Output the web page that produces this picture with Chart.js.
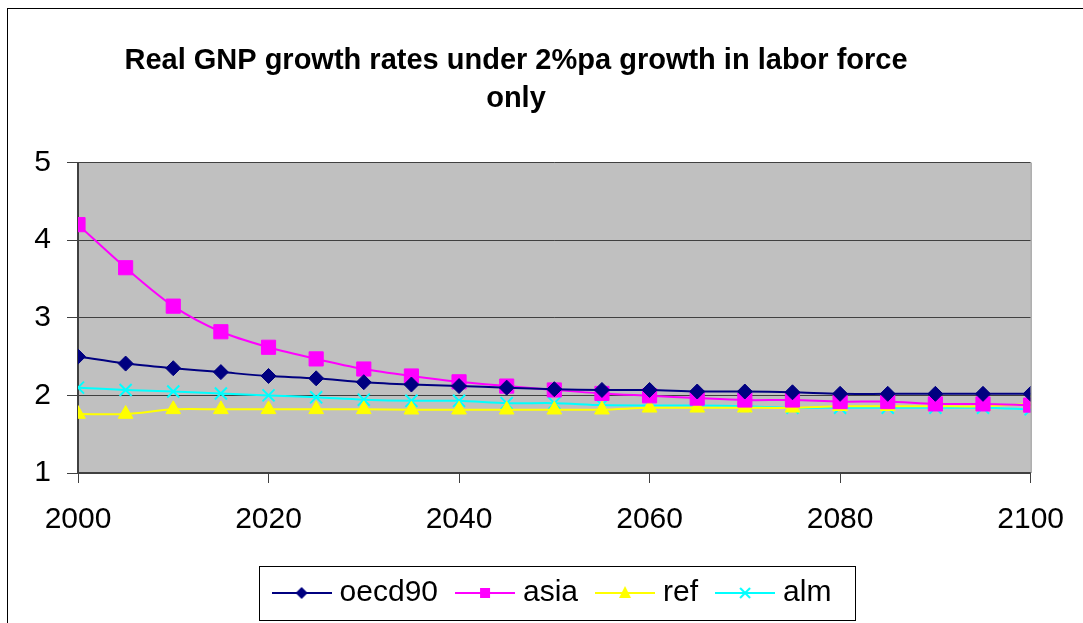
<!DOCTYPE html>
<html lang="en">
<head>
  <meta charset="UTF-8">
  <title>Real GNP growth rates</title>
  <style>
    body {
      margin: 0;
      background: #ffffff;
    }

    #chart {
      display: block;
    }
  </style>
</head>
<body>
  <canvas id="chart" width="1083" height="623"></canvas>

  <script src="https://cdn.jsdelivr.net/npm/chart.js"></script>
  <script>
    const years = [2000, 2005, 2010, 2015, 2020, 2025, 2030, 2035, 2040, 2045, 2050,
                   2055, 2060, 2065, 2070, 2075, 2080, 2085, 2090, 2095, 2100];
    const oecd90 = [2.5, 2.41, 2.35, 2.3, 2.25, 2.22, 2.17, 2.14, 2.12, 2.1, 2.08,
                    2.07, 2.07, 2.05, 2.05, 2.04, 2.02, 2.02, 2.02, 2.02, 2.02];
    const asia = [4.2, 3.645, 3.15, 2.82, 2.62, 2.47, 2.34, 2.25, 2.175, 2.12, 2.07,
                  2.025, 1.995, 1.965, 1.94, 1.94, 1.92, 1.92, 1.89, 1.89, 1.875];
    const ref = [1.76, 1.76, 1.82, 1.82, 1.82, 1.82, 1.82, 1.815, 1.815, 1.815, 1.815,
                 1.815, 1.84, 1.84, 1.84, 1.84, 1.86, 1.86, 1.86, 1.86, 1.89];
    const alm = [2.1, 2.07, 2.05, 2.025, 2.0, 1.975, 1.945, 1.93, 1.93, 1.9, 1.9,
                 1.875, 1.87, 1.87, 1.86, 1.84, 1.84, 1.84, 1.84, 1.84, 1.82];
    const yTicks = [1, 2, 3, 4, 5];
    const xTicks = [2000, 2020, 2040, 2060, 2080, 2100];

    const FONT = "'Liberation Sans', Arial, sans-serif";

    // small line+marker picture for the legend
    function legendIcon(color, marker) {
      const c = document.createElement('canvas');
      c.width = 60;
      c.height = 20;
      const g = c.getContext('2d');
      g.strokeStyle = color;
      g.fillStyle = color;
      g.lineWidth = 2;
      g.beginPath();
      g.moveTo(0, 10);
      g.lineTo(60, 10);
      g.stroke();
      g.beginPath();
      if (marker === 'diamond') {
        g.moveTo(30, 4); g.lineTo(36, 10); g.lineTo(30, 16); g.lineTo(24, 10);
        g.closePath(); g.fill();
      } else if (marker === 'square') {
        g.rect(25, 5, 10, 10); g.fill();
      } else if (marker === 'triangle') {
        g.moveTo(30, 3); g.lineTo(36, 15); g.lineTo(24, 15);
        g.closePath(); g.fill();
      } else {
        g.moveTo(25, 5); g.lineTo(35, 15);
        g.moveTo(35, 5); g.lineTo(25, 15);
        g.stroke();
      }
      return c;
    }

    const series = [
      { label: 'oecd90', values: oecd90, color: '#000080', style: 'rectRot', radius: 7.5, icon: 'diamond' },
      { label: 'asia', values: asia, color: '#FF00FF', style: 'rect', radius: 10, icon: 'square' },
      { label: 'ref', values: ref, color: '#FFFF00', style: 'triangle', radius: 8.5, icon: 'triangle' },
      { label: 'alm', values: alm, color: '#00FFFF', style: 'crossRot', radius: 8.5, icon: 'cross' }
    ];

    const frame = {
      id: 'frame',
      afterLayout(chart) {
        // legend sits a little right of the chart centre in the original
        chart.legend.left += 39;
        chart.legend.right += 39;
      },
      beforeDraw(chart) {
        const { ctx, chartArea } = chart;
        ctx.save();
        ctx.fillStyle = '#C0C0C0';
        ctx.fillRect(chartArea.left, chartArea.top,
                     chartArea.right - chartArea.left, chartArea.bottom - chartArea.top);
        ctx.restore();
      },
      afterDraw(chart) {
        const { ctx, chartArea } = chart;
        ctx.save();
        // outer border of the whole chart
        ctx.strokeStyle = '#000000';
        ctx.lineWidth = 1;
        ctx.strokeRect(7.5, 8.5, 1200, 800);
        // right edge of plot area
        ctx.strokeStyle = '#808080';
        ctx.beginPath();
        ctx.moveTo(chartArea.right + 0.5, chartArea.top);
        ctx.lineTo(chartArea.right + 0.5, chartArea.bottom);
        ctx.stroke();
        // legend frame
        const boxes = chart.legend.legendHitBoxes;
        if (boxes && boxes.length) {
          const left = boxes[0].left - 20;
          const last = boxes[boxes.length - 1];
          const right = last.left + last.width + 23;
          const mid = boxes[0].top + boxes[0].height / 2;
          ctx.strokeStyle = '#000000';
          ctx.strokeRect(Math.round(left) + 0.5, Math.round(mid - 27) + 0.5,
                         Math.round(right - left), 54);
        }
        ctx.restore();
      }
    };

    const ctx = document.getElementById('chart').getContext('2d');
    new Chart(ctx, {
      type: 'line',
      data: {
        datasets: series.map(s => ({
          label: s.label,
          data: years.map((y, i) => ({ x: y, y: s.values[i] })),
          borderColor: s.color,
          backgroundColor: s.color,
          borderWidth: 2,
          pointStyle: s.style,
          pointRadius: s.radius,
          pointBorderWidth: s.style === 'crossRot' ? 2 : 1,
          pointBackgroundColor: s.color,
          pointBorderColor: s.color,
          tension: 0.3,
          fill: false,
          icon: legendIcon(s.color, s.icon)
        }))
      },
      options: {
        responsive: false,
        animation: false,
        layout: {
          padding: { left: 0, right: 51, top: 0, bottom: 5 }
        },
        plugins: {
          title: {
            display: true,
            text: ['Real GNP growth rates under 2%pa growth in labor force', 'only'],
            color: '#000000',
            font: { family: FONT, size: 29, weight: 'bold', lineHeight: 1.32 },
            padding: { top: 42, bottom: 44 }
          },
          legend: {
            display: true,
            position: 'bottom',
            labels: {
              usePointStyle: true,
              pointStyleWidth: 46,
              padding: 24,
              color: '#000000',
              font: { family: FONT, size: 30 },
              generateLabels(chart) {
                return chart.data.datasets.map((d, i) => ({
                  text: d.label,
                  pointStyle: d.icon,
                  fillStyle: d.backgroundColor,
                  strokeStyle: d.borderColor,
                  lineWidth: 0,
                  hidden: false,
                  datasetIndex: i
                }));
              }
            }
          },
          tooltip: { enabled: false }
        },
        scales: {
          x: {
            type: 'linear',
            min: years[0],
            max: years[years.length - 1],
            afterBuildTicks(scale) {
              scale.ticks = xTicks.map(v => ({ value: v }));
            },
            afterFit(scale) {
              scale.height = 81;
            },
            ticks: {
              color: '#000000',
              font: { family: FONT, size: 30 },
              padding: 19,
              maxRotation: 0,
              callback: v => String(v)
            },
            grid: {
              drawOnChartArea: false,
              drawTicks: true,
              tickLength: 10,
              color: '#404040'
            },
            border: { display: true, color: '#404040', width: 2 }
          },
          y: {
            min: yTicks[0],
            max: yTicks[yTicks.length - 1],
            afterBuildTicks(scale) {
              scale.ticks = yTicks.map(v => ({ value: v }));
            },
            afterFit(scale) {
              scale.width = 78;
            },
            ticks: {
              color: '#000000',
              font: { family: FONT, size: 30 },
              padding: 16
            },
            grid: {
              color: '#404040',
              lineWidth: 1,
              tickLength: 11
            },
            border: { display: true, color: '#404040', width: 2 }
          }
        }
      },
      plugins: [frame]
    });
  </script>
</body>
</html>
